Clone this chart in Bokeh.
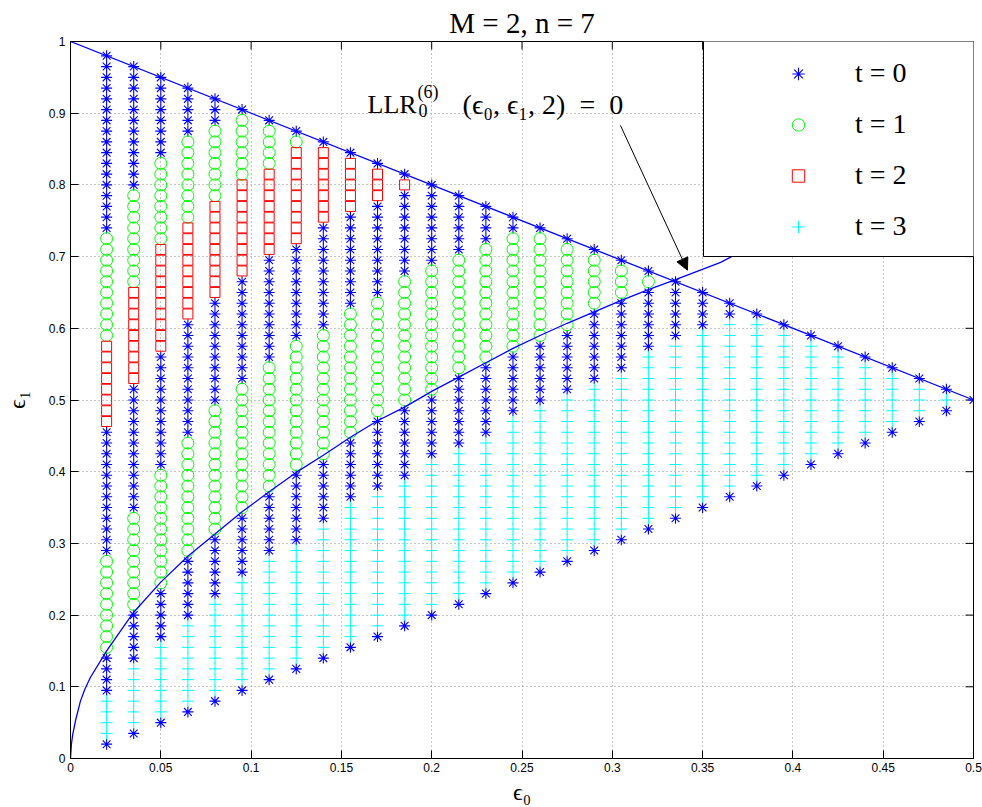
from bokeh.plotting import figure
from bokeh.models import (Range1d, FixedTicker, Legend, LegendItem,
                          Arrow, NormalHead, Label, BoxAnnotation)
from bokeh.embed import file_html
from bokeh.resources import INLINE

# ---------------- data ----------------
E0_VALUES = [0.02, 0.035, 0.05, 0.065, 0.08, 0.095, 0.11, 0.125, 0.14, 0.155, 0.17,
             0.185, 0.2, 0.215, 0.23, 0.245, 0.26, 0.275, 0.29, 0.305, 0.32, 0.335,
             0.35, 0.365, 0.38, 0.395, 0.41, 0.425, 0.44, 0.455, 0.47, 0.485, 0.5]

E1_VALUES = [0.02, 0.035, 0.05, 0.065, 0.08, 0.095, 0.11, 0.125, 0.14, 0.155, 0.17,
             0.185, 0.2, 0.215, 0.23, 0.245, 0.26, 0.275, 0.29, 0.305, 0.32, 0.335,
             0.35, 0.365, 0.38, 0.395, 0.41, 0.425, 0.44, 0.455, 0.47, 0.485, 0.5,
             0.515, 0.53, 0.545, 0.56, 0.575, 0.59, 0.605, 0.62, 0.635, 0.65, 0.665,
             0.68, 0.695, 0.71, 0.725, 0.74, 0.755, 0.77, 0.785, 0.8, 0.815, 0.83,
             0.845, 0.86, 0.875, 0.89, 0.905, 0.92, 0.935, 0.95, 0.965, 0.98]

# class runs (t, count) per column, from eps1 = eps0 upwards
COLUMN_RUNS = [
    [(0, 1), (3, 4), (0, 4), (1, 9), (0, 12), (2, 8), (1, 10), (0, 17)],
    [(0, 1), (3, 6), (0, 5), (1, 9), (0, 12), (2, 9), (1, 9), (0, 12)],
    [(0, 1), (3, 7), (0, 5), (1, 11), (0, 11), (2, 10), (1, 8), (0, 8)],
    [(0, 1), (3, 8), (0, 6), (1, 11), (0, 11), (2, 9), (1, 8), (0, 5)],
    [(0, 1), (3, 9), (0, 6), (1, 12), (0, 10), (2, 9), (1, 7), (0, 3)],
    [(0, 1), (3, 10), (0, 6), (1, 12), (0, 10), (2, 9), (1, 6), (0, 1)],
    [(0, 1), (3, 11), (0, 6), (1, 12), (0, 10), (2, 8), (1, 4), (0, 1)],
    [(0, 1), (3, 11), (0, 7), (1, 12), (0, 9), (2, 9), (1, 1), (0, 1)],
    [(0, 1), (3, 12), (0, 6), (1, 12), (0, 10), (2, 7), (0, 1)],
    [(0, 1), (3, 13), (0, 6), (1, 12), (0, 9), (2, 5), (0, 1)],
    [(0, 1), (3, 13), (0, 7), (1, 11), (0, 9), (2, 3), (0, 1)],
    [(0, 1), (3, 13), (0, 7), (1, 12), (0, 8), (2, 1), (0, 1)],
    [(0, 1), (3, 14), (0, 6), (1, 12), (0, 8)],
    [(0, 1), (3, 14), (0, 7), (1, 11), (0, 6)],
    [(0, 1), (3, 14), (0, 7), (1, 11), (0, 4)],
    [(0, 1), (3, 15), (0, 6), (1, 11), (0, 2)],
    [(0, 1), (3, 15), (0, 6), (1, 10), (0, 1)],
    [(0, 1), (3, 15), (0, 6), (1, 8), (0, 1)],
    [(0, 1), (3, 15), (0, 7), (1, 5), (0, 1)],
    [(0, 1), (3, 15), (0, 7), (1, 3), (0, 1)],
    [(0, 1), (3, 16), (0, 6), (1, 1), (0, 1)],
    [(0, 1), (3, 16), (0, 6)],
    [(0, 1), (3, 16), (0, 4)],
    [(0, 1), (3, 16), (0, 2)],
    [(0, 1), (3, 15), (0, 1)],
    [(0, 1), (3, 13), (0, 1)],
    [(0, 1), (3, 11), (0, 1)],
    [(0, 1), (3, 9), (0, 1)],
    [(0, 1), (3, 7), (0, 1)],
    [(0, 1), (3, 5), (0, 1)],
    [(0, 1), (3, 3), (0, 1)],
    [(0, 1), (3, 1), (0, 1)],
    [(0, 1)],
]

CLASS_LABELS = ["t = 0", "t = 1", "t = 2", "t = 3"]
TITLE = "M = 2, n = 7"

# boundary curve LLR = 0
CURVE_X = [0.0, 0.0005, 0.0012, 0.0028, 0.0055, 0.008, 0.011, 0.02, 0.035, 0.05, 0.065,
           0.08, 0.095, 0.11, 0.125, 0.14, 0.155, 0.17, 0.185, 0.2, 0.215, 0.23, 0.245,
           0.26, 0.275, 0.29, 0.305, 0.32, 0.335, 0.36, 0.366, 0.38]
CURVE_Y = [0.0, 0.02, 0.033, 0.053, 0.08, 0.097, 0.113, 0.150, 0.204, 0.246, 0.282,
           0.313, 0.344, 0.372, 0.399, 0.423, 0.448, 0.471, 0.490, 0.512, 0.532, 0.552,
           0.572, 0.590, 0.607, 0.623, 0.639, 0.654, 0.668, 0.692, 0.700, 0.714]

# line eps0 + eps1 = 1
DIAG_X = [0.0, 0.5]
DIAG_Y = [1.0, 0.5]

ARROW_START = (0.3045, 0.883)
ARROW_END = (0.3416, 0.681)
ANNOT_POS = (0.1645, 0.897)

X_TICKS = [0, 0.05, 0.1, 0.15, 0.2, 0.25, 0.3, 0.35, 0.4, 0.45, 0.5]
X_TICK_LABELS = ["0", "0.05", "0.1", "0.15", "0.2", "0.25", "0.3", "0.35", "0.4", "0.45", "0.5"]
Y_TICKS = [0, 0.1, 0.2, 0.3, 0.4, 0.5, 0.6, 0.7, 0.8, 0.9, 1]
Y_TICK_LABELS = ["0", "0.1", "0.2", "0.3", "0.4", "0.5", "0.6", "0.7", "0.8", "0.9", "1"]

X_MIN, X_MAX = 0.0, 0.5
Y_MIN, Y_MAX = 0.0, 1.0

# ---------------- build point sets ----------------
pts = {t: ([], []) for t in range(4)}
for i, (e0, runs) in enumerate(zip(E0_VALUES, COLUMN_RUNS)):
    j = i
    for t, n in runs:
        for _ in range(n):
            pts[t][0].append(e0)
            pts[t][1].append(E1_VALUES[j])
            j += 1

SERIF = "Liberation Serif"
SANS = "Liberation Sans"

W, H = 982, 807
BL, BR, BT, BB = 70, 9, 41, 49
FRAME_W = W - BL - BR
FRAME_H = H - BT - BB
TICK_PX = 8

p = figure(width=W, height=H, x_range=Range1d(X_MIN, X_MAX), y_range=Range1d(Y_MIN, Y_MAX),
           output_backend="svg", toolbar_location=None,
           min_border_left=BL, min_border_right=BR, min_border_top=BT, min_border_bottom=BB)
p.background_fill_color = "white"
p.border_fill_color = "white"
p.outline_line_color = "black"
p.outline_line_width = 1

# title
p.title.text = TITLE
p.title.text_font = SERIF
p.title.text_font_size = "29px"
p.title.text_font_style = "normal"
p.title.align = "center"
p.title.vertical_align = "bottom"
p.title.standoff = 5
p.title.offset = -6
p.title.text_color = "black"

xt = FixedTicker(ticks=X_TICKS)
yt = FixedTicker(ticks=Y_TICKS)

xa = p.below[0]
ya = p.left[0]
xa.ticker = xt
ya.ticker = yt
xa.major_label_overrides = dict(zip(X_TICKS, X_TICK_LABELS))
ya.major_label_overrides = dict(zip(Y_TICKS, Y_TICK_LABELS))
for ax in (xa, ya):
    ax.major_tick_in = TICK_PX
    ax.major_tick_out = 0
    ax.minor_tick_line_color = None
    ax.axis_line_color = "black"
    ax.major_tick_line_color = "black"
    ax.major_label_text_font = SANS
    ax.major_label_text_font_size = "12px"
    ax.major_label_text_color = "black"
    ax.axis_label_text_font = SERIF
    ax.axis_label_text_font_size = "24px"
    ax.axis_label_text_font_style = "normal"
    ax.axis_label_text_color = "black"
xa.major_label_standoff = 4
ya.major_label_standoff = 5
xa.axis_label = "ϵ₀"
ya.axis_label = "ϵ₁"
xa.axis_label_standoff = 4
ya.axis_label_standoff = 16

# inward ticks on the top and right edges of the box
dx = TICK_PX * (X_MAX - X_MIN) / FRAME_W
dy = TICK_PX * (Y_MAX - Y_MIN) / FRAME_H
p.segment(x0=X_TICKS, y0=[Y_MAX] * len(X_TICKS), x1=X_TICKS, y1=[Y_MAX - dy] * len(X_TICKS),
          line_color="black", line_width=1)
p.segment(x0=[X_MAX] * len(Y_TICKS), y0=Y_TICKS, x1=[X_MAX - dx] * len(Y_TICKS), y1=Y_TICKS,
          line_color="black", line_width=1)

for g in (p.xgrid[0], p.ygrid[0]):
    g.grid_line_color = "#8c8c8c"
    g.grid_line_dash = "1 3"
    g.grid_line_width = 1
p.xgrid[0].ticker = xt
p.ygrid[0].ticker = yt

styles = [
    dict(marker="asterisk", size=11, line_color="#0000ff", fill_color=None, line_width=1.1),
    dict(marker="circle", size=12, line_color="#00ff00", fill_color=None, line_width=1),
    dict(marker="square", size=10, line_color="#ff0000", fill_color=None, line_width=1),
    dict(marker="cross", size=12, line_color="#00ffff", fill_color=None, line_width=1),
]
renderers = []
for t in range(4):
    r = p.scatter(pts[t][0], pts[t][1], **styles[t])
    renderers.append(r)

p.line(DIAG_X, DIAG_Y, line_color="#0000ff", line_width=1.3)
p.line(CURVE_X, CURVE_Y, line_color="#0000ff", line_width=1.3)

p.add_layout(Arrow(x_start=ARROW_START[0], y_start=ARROW_START[1],
                   x_end=ARROW_END[0], y_end=ARROW_END[1],
                   line_color="black", line_width=1,
                   end=NormalHead(size=12, fill_color="black", line_color="black")))

ax0, ay0 = ANNOT_POS
for txt, ox, oy, fs in (("LLR", 0, 11, "26px"), ("(6)", 50, 23, "18px"),
                        ("0", 51, 5, "18px"), ("(ϵ₀, ϵ₁, 2)\u2002=\u20020", 95, 11, "28px")):
    p.add_layout(Label(x=ax0, y=ay0, x_offset=ox, y_offset=oy, text=txt,
                       text_font=SERIF, text_font_size=fs, text_color="black",
                       text_baseline="alphabetic", text_align="left"))

# legend frame (white box with black border), then the legend entries on top
p.add_layout(BoxAnnotation(left=(703 - BL) / FRAME_W * X_MAX, right=(975 - BL) / FRAME_W * X_MAX,
                           top=Y_MAX + 1 / FRAME_H, bottom=(758 - 256) / FRAME_H * Y_MAX,
                           fill_color="white", fill_alpha=1.0,
                           line_color="black", line_width=1, line_alpha=1.0))

legend = Legend(items=[LegendItem(label=CLASS_LABELS[t], renderers=[renderers[t]]) for t in range(4)],
                location=(671, 516), orientation="vertical", margin=0,
                padding=0, spacing=19, glyph_width=114, glyph_height=31,
                label_height=31, label_width=60, label_standoff=0,
                label_text_font=SERIF, label_text_font_size="28px", label_text_color="black",
                border_line_color=None, background_fill_alpha=0.0)
p.add_layout(legend)

open("out.html", "w").write(file_html(p, INLINE))
